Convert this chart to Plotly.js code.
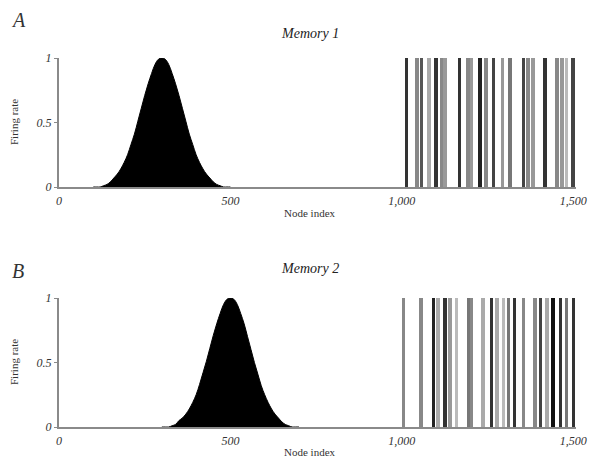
<!DOCTYPE html>
<html>
<head>
<meta charset="utf-8">
<script src="https://cdn.plot.ly/plotly-3.0.1.min.js"></script>
<style>html,body{margin:0;padding:0;background:#fff;}#chart{width:590px;height:461px;}</style>
</head>
<body>
<div id="chart"></div>
<script>
// ---- data ----
var bumpNodesA = [100,110,120,130,140,150,160,170,180,190,200,210,220,230,240,250,260,270,280,290,300,310,320,330,340,350,360,370,380,390,400,410,420,430,440,450,460,470,480,490,500];
var bumpRateA  = [0.00,0.00,0.00,0.01,0.02,0.04,0.07,0.10,0.14,0.19,0.25,0.33,0.41,0.51,0.61,0.71,0.80,0.88,0.95,0.99,1.00,0.99,0.95,0.88,0.80,0.71,0.61,0.51,0.41,0.33,0.25,0.19,0.14,0.10,0.07,0.04,0.02,0.01,0.00,0.00,0.00];
var bumpNodesB = [300,310,320,330,340,350,360,370,380,390,400,410,420,430,440,450,460,470,480,490,500,510,520,530,540,550,560,570,580,590,600,610,620,630,640,650,660,670,680,690,700];
var bumpRateB  = [0.00,0.00,0.00,0.01,0.02,0.05,0.07,0.10,0.14,0.19,0.25,0.33,0.42,0.51,0.61,0.71,0.80,0.88,0.95,0.99,1.00,0.99,0.95,0.88,0.80,0.70,0.60,0.50,0.41,0.32,0.25,0.19,0.14,0.10,0.07,0.04,0.02,0.01,0.00,0.00,0.00];

var spikeNodesA = [1014,1044,1058,1079,1100,1117,1126,1168,1193,1204,1228,1246,1267,1293,1316,1355,1368,1383,1418,1452,1467,1481,1499];
var spikeRateA  = [1,1,1,1,1,1,1,1,1,1,1,1,1,1,1,1,1,1,1,1,1,1,1];
var spikeNodesB = [1004,1056,1092,1106,1126,1141,1160,1194,1204,1237,1262,1277,1296,1311,1328,1355,1389,1404,1423,1441,1462,1481,1500];
var spikeRateB  = [1,1,1,1,1,1,1,1,1,1,1,1,1,1,1,1,1,1,1,1,1,1,1];

var xTickVals  = [0,500,1000,1500];
var xTickText  = ['0','500','1,000','1,500'];
var yTickVals  = [0,0.5,1];
var yTickText  = ['0','0.5','1'];
var panelTitles = ['Memory 1','Memory 2'];
var panelLetters = ['A','B'];

// ---- styles ----
var shadesA = ['#333','#888','#555','#aaa','#333','#888','#999','#333','#888','#999','#222','#888','#444','#999','#777','#444','#888','#999','#333','#888','#999','#bbb','#444'];
var shadesB = ['#888','#888','#222','#aaa','#333','#999','#bbb','#777','#888','#aaa','#333','#aaa','#bbb','#777','#333','#888','#888','#444','#aaa','#111','#333','#777','#333'];
var serif = 'Liberation Serif, Times New Roman, serif';
var axisGray = '#8a8a8a';

var traces = [
  {type:'scatter', x:bumpNodesA, y:bumpRateA, mode:'lines', line:{color:'#000', width:1, shape:'spline'}, fill:'tozeroy', fillcolor:'#000', xaxis:'x', yaxis:'y', hoverinfo:'skip'},
  {type:'bar', x:spikeNodesA, y:spikeRateA, width:10, marker:{color:shadesA, line:{width:0}}, xaxis:'x', yaxis:'y'},
  {type:'scatter', x:bumpNodesB, y:bumpRateB, mode:'lines', line:{color:'#000', width:1, shape:'spline'}, fill:'tozeroy', fillcolor:'#000', xaxis:'x2', yaxis:'y2', hoverinfo:'skip'},
  {type:'bar', x:spikeNodesB, y:spikeRateB, width:10, marker:{color:shadesB, line:{width:0}}, xaxis:'x2', yaxis:'y2'}
];

function xax(anchor) {
  return {domain:[59/590, 576/590], range:[0,1508], anchor:anchor, showgrid:false, zeroline:false,
    showline:true, linecolor:axisGray, linewidth:2, ticks:'', tickvals:xTickVals, ticktext:xTickText,
    tickfont:{family:serif, size:12, color:'#333', style:'italic'}, ticklabelstandoff:2, fixedrange:true};
}
function yax(anchor, dom) {
  return {domain:dom, range:[0,1.0], anchor:anchor, showgrid:false, zeroline:false,
    showline:true, linecolor:axisGray, linewidth:2, ticks:'outside', ticklen:3, tickcolor:axisGray,
    tickvals:yTickVals, ticktext:yTickText,
    tickfont:{family:serif, size:12, color:'#333', style:'italic'}, fixedrange:true};
}

var ann = [];
var titleY = [33, 268], letterY = [20, 271], xtY = [213, 452], ytY = [122, 362];
for (var i = 0; i < 2; i++) {
  ann.push({text:panelTitles[i], xref:'paper', yref:'paper', x:310/590, y:1-titleY[i]/461, showarrow:false,
    xanchor:'center', yanchor:'middle', font:{family:serif, size:14, color:'#222', style:'italic'}});
  ann.push({text:panelLetters[i], xref:'paper', yref:'paper', x:18/590, y:1-letterY[i]/461, showarrow:false,
    xanchor:'center', yanchor:'middle', font:{family:serif, size:20, color:'#333', style:'italic'}});
  ann.push({text:'Node index', xref:'paper', yref:'paper', x:310/590, y:1-xtY[i]/461, showarrow:false,
    xanchor:'center', yanchor:'middle', font:{family:serif, size:11, color:'#333'}});
  ann.push({text:'Firing rate', xref:'paper', yref:'paper', x:14/590, y:1-ytY[i]/461, showarrow:false,
    textangle:-90, xanchor:'center', yanchor:'middle', font:{family:serif, size:11, color:'#333'}});
}

var layout = {
  width:590, height:461, margin:{l:0, r:0, t:0, b:0}, showlegend:false,
  paper_bgcolor:'#fff', plot_bgcolor:'rgba(0,0,0,0)', bargap:0,
  xaxis:xax('y'), yaxis:yax('x', [1-187/461, 1-58/461]),
  xaxis2:xax('y2'), yaxis2:yax('x2', [1-427/461, 1-298/461]),
  annotations:ann
};

Plotly.newPlot('chart', traces, layout, {displayModeBar:false, staticPlot:true});
</script>
</body>
</html>
